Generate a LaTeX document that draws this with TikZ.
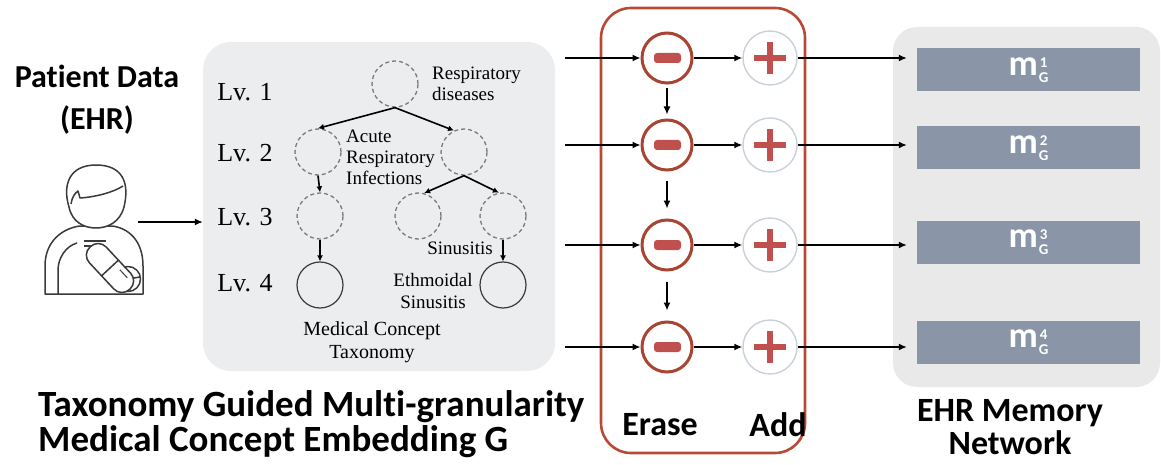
\documentclass[tikz,border=0pt]{standalone}
\usepackage{fontspec}
\setmainfont{Carlito}[Ligatures={NoCommon}]
\newfontfamily\taxserif{Liberation Serif}
\usetikzlibrary{arrows.meta,calc}
\definecolor{boxgray}{HTML}{ECEDEF}
\definecolor{memgray}{HTML}{E9E9E9}
\definecolor{barblue}{HTML}{8B95A8}
\definecolor{frame}{HTML}{B84A35}
\definecolor{minusred}{HTML}{A94432}
\definecolor{signred}{HTML}{C0504D}
\definecolor{plusring}{HTML}{C9D0DA}
\definecolor{iconline}{HTML}{3A3A3A}
\definecolor{dashline}{HTML}{7A7A7A}
% memory slot label: m with stacked index and G
\newcommand{\memlabel}[1]{m\hspace{1pt}\raisebox{-7pt}{\fontsize{15}{15}\selectfont\shortstack{#1\\[2pt]G}}}
\tikzset{
  arr/.style={line width=1.4pt, -{Latex[length=8pt,width=7pt]}},
  treearr/.style={line width=1.6pt, -{Latex[length=6pt,width=6pt]}},
  concept/.style={circle, draw=dashline, line width=1.3pt, dash pattern=on 4pt off 3pt, minimum size=46pt, inner sep=0pt},
  leaf/.style={circle, draw=iconline, line width=1.2pt, minimum size=46pt, inner sep=0pt},
  erasenode/.style={circle, draw=minusred, line width=3pt, minimum size=50pt, inner sep=0pt},
  addnode/.style={circle, draw=plusring, line width=1.4pt, minimum size=54pt, inner sep=0pt},
  bigtxt/.style={font=\fontsize{34}{33}\selectfont\bfseries, align=center, inner sep=0pt},
  lvtxt/.style={font=\taxserif\fontsize{26}{30}\selectfont, inner sep=0pt},
  smalltxt/.style={font=\taxserif\fontsize{19}{21}\selectfont, inner sep=0pt},
  membar/.style={fill=barblue, minimum width=223pt, minimum height=43pt, inner sep=0pt,
    text=white, font=\fontsize{36}{36}\selectfont\bfseries},
  panel/.style={inner sep=0pt, rounded corners=28pt},
}
\begin{document}
\begin{tikzpicture}[x=1pt, y=-1pt]
\useasboundingbox (0,0) rectangle (1161,465);

% ---------- panels ----------
\node[panel, fill=boxgray, minimum width=352pt, minimum height=329pt] (tax) at (379,206.5) {};
\node[panel, fill=memgray, minimum width=267pt, minimum height=360pt, rounded corners=24pt] (mem) at (1026.5,207) {};
\node[panel, draw=frame, line width=2.6pt, minimum width=204pt, minimum height=445pt, rounded corners=30pt] (mod) at (703,230.5) {};

% ---------- patient data ----------
\node[bigtxt, font=\fontsize{32}{42}\selectfont\bfseries] (pt) at (97,100) {Patient Data\\(EHR)};
\begin{scope}[iconline, line width=1.5pt, line join=round]
  % body
  \draw[fill=white] (45,294) -- (45,266) .. controls (45,240) and (64,228) .. (80,226)
    -- (112,226) .. controls (128,228) and (143,240) .. (143,266) -- (143,294) -- cycle;
  \draw (58,294) -- (58,270) .. controls (58,258) and (66,246) .. (77,243);
  \draw (84,241) -- (106,241);
  \draw (84,246) -- (98,246);
  % head
  \draw[fill=white] (69,207) .. controls (62,184) and (70,165) .. (96,165)
    .. controls (122,165) and (130,182) .. (124,207)
    .. controls (120,222) and (108,228) .. (96,228)
    .. controls (84,228) and (72,222) .. (69,207) -- cycle;
  \draw (71,204) .. controls (72,197) and (75,193) .. (78,191) -- (80,198)
    .. controls (96,197) and (114,192) .. (123,186);
  % round pill
  \draw[fill=white] (128,279) circle (12.5);
  \draw (116,281) -- (140,277);
  % capsule
  \begin{scope}[shift={(110,268)}, rotate=-47]
    \draw[fill=white, rounded corners=11pt] (-29,-11.5) rectangle (29,11.5);
    \draw (0,-11.5) -- (0,11.5);
    \draw[line width=1pt] (8,-6) -- (19,-6);
  \end{scope}
\end{scope}
\coordinate (ptout) at (138,222);
\draw[arr] (ptout) -- (tax.west |- ptout);

% ---------- taxonomy ----------
\node[lvtxt] (lv1) at (245,92) {Lv. 1};
\node[lvtxt] (lv2) at (245,153) {Lv. 2};
\node[lvtxt] (lv3) at (245,217) {Lv. 3};
\node[lvtxt] (lv4) at (245,283) {Lv. 4};

\node[concept] (root) at (395,84) {};
\node[concept] (l2a) at (318,152) {};
\node[concept] (l2b) at (464,152) {};
\node[concept] (l3a) at (320,216) {};
\node[concept] (l3b) at (418,216) {};
\node[concept] (l3c) at (503,216) {};
\node[leaf] (l4a) at (320,285) {};
\node[leaf] (l4c) at (503,285) {};

\draw[treearr] (root.south) -- (l2a.north);
\draw[treearr] (root.south) -- (l2b.115);
\draw[treearr] (l2b.south) -- (l3b.75);
\draw[treearr] (l2b.south) -- (l3c.100);
\draw[treearr] (l2a.south) -- (l3a.north);
\draw[treearr] (l3a.south) -- (l4a.north);
\draw[treearr] (l3c.south) -- (l4c.north);

\node[smalltxt, anchor=west, align=left] (t1) at (432,84) {Respiratory\\diseases};
\node[smalltxt, anchor=west, align=left] (t2) at (346,157) {Acute\\Respiratory\\Infections};
\node[smalltxt] (t3) at (460,248) {Sinusitis};
\node[smalltxt, align=center] (t4) at (433,291) {Ethmoidal\\Sinusitis};
\node[smalltxt, align=center, font=\taxserif\fontsize{20}{23}\selectfont] (t5) at (372,342) {Medical Concept\\Taxonomy};

\node[bigtxt, font=\fontsize{37}{35}\selectfont\bfseries, anchor=north west, align=left] (gtitle) at (38,390)
  {Taxonomy Guided Multi-granularity\\Medical Concept Embedding G};

% ---------- erase / add rows ----------
\foreach \i/\y/\by in {1/58/70, 2/145/148, 3/245/242, 4/347/342} {
  \coordinate (in\i) at (565,\y);
  \node[erasenode] (e\i) at (667,\y) {};
  \node[addnode] (a\i) at (770,\y) {};
  \fill[signred, rounded corners=3pt] (654,\y-5) rectangle (681,\y+5);
  \fill[signred] (754,\y-2.6) rectangle (786,\y+2.6);
  \fill[signred] (767.4,\y-16) rectangle (772.6,\y+16);
  \node[membar] (m\i) at (1028.5,\by) {\memlabel{\i}};
  \draw[arr] (in\i) -- (e\i);
  \draw[arr] (e\i) -- (a\i);
  \draw[arr, shorten >=10pt] (a\i) -- (m\i.west |- a\i);
}
\node[bigtxt] (erase) at (660,425) {Erase};
\node[bigtxt] (add) at (778,425) {Add};
\draw[arr] ([yshift=-4pt]e1.south) -- ([yshift=4pt]e2.north);
\draw[arr] ([yshift=-10pt]e2.south) -- ([yshift=10pt]e3.north);
\draw[arr] ([yshift=-10pt]e3.south) -- ([yshift=10pt]e4.north);

% ---------- memory network ----------
\node[bigtxt] (memtitle) at (1010,427) {EHR Memory\\Network};
\end{tikzpicture}
\end{document}
